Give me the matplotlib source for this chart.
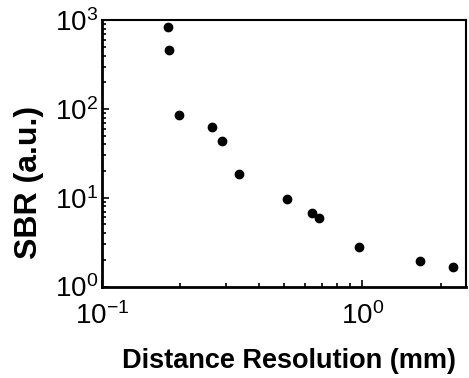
import math
import matplotlib
matplotlib.use("Agg")
import matplotlib.pyplot as plt
from matplotlib.ticker import LogLocator, FuncFormatter, NullFormatter

plt.rcParams['font.family'] = ['Liberation Sans', 'DejaVu Sans']
plt.rcParams['mathtext.fontset'] = 'custom'
plt.rcParams['mathtext.rm'] = 'Liberation Sans'
plt.rcParams['mathtext.it'] = 'Liberation Sans'
plt.rcParams['mathtext.bf'] = 'Liberation Sans:bold'

distance_resolution = [0.179, 0.181, 0.198, 0.265, 0.290, 0.336, 0.515, 0.641, 0.679, 0.974, 1.67, 2.22]
sbr = [841, 460, 86, 62, 44, 18.3, 9.7, 6.8, 5.9, 2.8, 1.96, 1.66]
x_label = 'Distance Resolution (mm)'
y_label = 'SBR (a.u.)'

fig = plt.figure(figsize=(4.69, 3.78), dpi=100)
ax = fig.add_axes([0.2175, 0.242, 0.776, 0.7045])
ax.plot(distance_resolution, sbr, 'o', color='black', markersize=6)
ax.set_xscale('log')
ax.set_yscale('log')
ax.set_xlim(0.1, 2.5)
ax.set_ylim(1, 1000)

fmt = FuncFormatter(lambda v, p: r'$\mathregular{10^{%d}}$' % round(math.log10(v)))
ax.xaxis.set_major_locator(LogLocator(base=10))
ax.yaxis.set_major_locator(LogLocator(base=10))
ax.xaxis.set_major_formatter(fmt)
ax.yaxis.set_major_formatter(fmt)
ax.xaxis.set_minor_locator(LogLocator(base=10, subs=range(2, 10)))
ax.yaxis.set_minor_locator(LogLocator(base=10, subs=range(2, 10)))
ax.xaxis.set_minor_formatter(NullFormatter())
ax.yaxis.set_minor_formatter(NullFormatter())

ax.tick_params(which='both', direction='in', top=False, right=False, labelsize=20, width=1.2)
ax.tick_params(which='major', length=5)
ax.tick_params(which='minor', length=3)
ax.tick_params(axis='x', which='major', pad=11)
ax.tick_params(axis='y', which='major', pad=3)

ax.spines['left'].set_linewidth(2)
ax.spines['bottom'].set_linewidth(2)
ax.spines['top'].set_linewidth(1.5)
ax.spines['right'].set_linewidth(1.5)

fig.text(0.616, 0.045, x_label, fontsize=19.5, fontweight='bold', ha='center', va='center')
fig.text(0.062, 0.517, y_label, fontsize=23, fontweight='bold', ha='center', va='center', rotation=90)

fig.savefig('out.png', dpi=100)
